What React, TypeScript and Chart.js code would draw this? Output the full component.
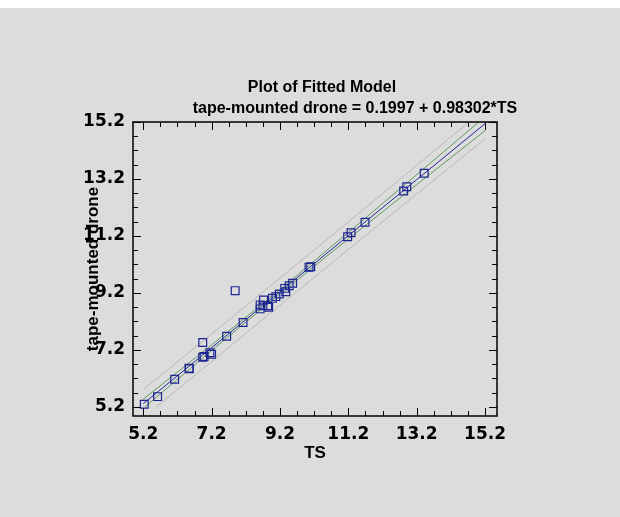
import React, { useEffect, useRef } from 'react';
import { Chart, registerables } from 'chart.js';

Chart.register(...registerables);

const titleLines = ['Plot of Fitted Model', 'tape-mounted drone = 0.1997 + 0.98302*TS'];
const xTitle = 'TS';
const yTitle = 'tape-mounted drone';

const xMajorTicks = [5.2, 7.2, 9.2, 11.2, 13.2, 15.2];
const yMajorTicks = [5.2, 7.2, 9.2, 11.2, 13.2, 15.2];
const xMinorTicks = [5.2, 5.7, 6.2, 6.7, 7.2, 7.7, 8.2, 8.7, 9.2, 9.7, 10.2, 10.7, 11.2, 11.7, 12.2, 12.7, 13.2, 13.7, 14.2, 14.7, 15.2];
const yMinorTicks = [5.2, 5.7, 6.2, 6.7, 7.2, 7.7, 8.2, 8.7, 9.2, 9.7, 10.2, 10.7, 11.2, 11.7, 12.2, 12.7, 13.2, 13.7, 14.2, 14.7, 15.2];
const xRange = [4.9, 15.55];
const yRange = [4.88, 15.2];

// observed points
const obsTS = [5.23, 5.62, 6.12, 6.54, 6.55, 6.94, 6.94, 6.98, 7.15, 7.2, 7.64, 8.12, 7.89, 8.62, 8.62, 8.7, 8.72, 8.84, 8.87, 8.98, 9.08, 9.18, 9.34, 9.37, 9.47, 9.57, 10.05, 10.1, 11.18, 11.28, 11.69, 12.82, 12.91, 13.42];
const obsDrone = [5.29, 5.56, 6.17, 6.56, 6.54, 7.46, 6.94, 6.97, 7.1, 7.05, 7.68, 8.16, 9.28, 8.64, 8.78, 8.75, 8.95, 8.75, 8.7, 9.01, 9.07, 9.16, 9.36, 9.24, 9.45, 9.54, 10.1, 10.12, 11.17, 11.31, 11.68, 12.78, 12.93, 13.4];

// fitted line and limits
const lineTS = [5.2, 7.2, 9.2, 11.2, 13.2, 15.2];
const fitted = [5.311, 7.277, 9.243, 11.209, 13.175, 15.141];
const confUpper = [5.468, 7.374, 9.318, 11.322, 13.351, 15.386];
const confLowerTS = [5.25, 7.2, 9.2, 11.2, 13.2, 15.2];
const confLower = [5.2, 7.18, 9.168, 11.096, 12.999, 14.896];
const predUpper = [5.806, 7.757, 9.719, 11.693, 13.677, 15.671];
const predLowerTS = [5.58, 7.2, 9.2, 11.2, 13.2, 15.2];
const predLower = [5.2, 6.797, 8.767, 10.725, 12.673, 14.611];

const zip = (xs: number[], ys: number[]) => xs.map((x, i) => ({ x, y: ys[i] }));
const isIn = (arr: number[], v: number) => arr.some((m) => Math.abs(m - v) < 1e-6);

const framePlugin = {
  id: 'frame',
  afterDraw(chart: any) {
    const { ctx, chartArea: a, scales } = chart;
    ctx.save();
    ctx.strokeStyle = '#000';
    ctx.lineWidth = 1;
    const seg = (x1: number, y1: number, x2: number, y2: number) => {
      ctx.beginPath();
      ctx.moveTo(x1, y1);
      ctx.lineTo(x2, y2);
      ctx.stroke();
    };
    const xs = scales.x;
    xs.ticks.forEach((t: any) => {
      const p = Math.round(xs.getPixelForValue(t.value)) + 0.5;
      const len = isIn(xMajorTicks, t.value) ? 8 : 5;
      seg(p, a.bottom, p, a.bottom - len);
      seg(p, a.top, p, a.top + len);
    });
    const ys = scales.y;
    ys.ticks.forEach((t: any) => {
      const p = Math.round(ys.getPixelForValue(t.value)) + 0.5;
      const len = isIn(yMajorTicks, t.value) ? 8 : 5;
      seg(a.left, p, a.left + len, p);
      seg(a.right, p, a.right - len, p);
    });
    ctx.lineWidth = 1.5;
    ctx.strokeRect(a.left, a.top, a.right - a.left, a.bottom - a.top);

    ctx.fillStyle = '#000';
    ctx.font = 'bold 16px "Liberation Sans", Arial, sans-serif';
    ctx.textAlign = 'center';
    ctx.textBaseline = 'middle';
    ctx.fillText(titleLines[0], 322, 80);
    ctx.fillText(titleLines[1], 355, 101);
    ctx.restore();
  },
};

const tickFont = { family: '"DejaVu Sans", sans-serif', size: 17, weight: 'bold' as const };
const titleFont = { family: '"Liberation Sans", Arial, sans-serif', size: 17, weight: 'bold' as const };

export default function App() {
  const ref = useRef<HTMLCanvasElement>(null);
  useEffect(() => {
    if (!ref.current) return;
    const chart = new Chart(ref.current, {
      type: 'scatter',
      data: {
        datasets: [
          {
            label: 'observed',
            data: zip(obsTS, obsDrone),
            pointStyle: 'rect',
            pointRadius: 5.5,
            borderWidth: 1.2,
            borderColor: '#1c2590',
            backgroundColor: 'rgba(0,0,0,0)',
          },
          {
            label: 'fitted',
            data: zip(lineTS, fitted),
            showLine: true,
            pointRadius: 0,
            borderWidth: 1,
            borderColor: '#23239a',
          },
          {
            label: 'conf upper',
            data: zip(lineTS, confUpper),
            showLine: true,
            pointRadius: 0,
            borderWidth: 1,
            borderColor: '#5e9a5e',
          },
          {
            label: 'conf lower',
            data: zip(confLowerTS, confLower),
            showLine: true,
            pointRadius: 0,
            borderWidth: 1,
            borderColor: '#5e9a5e',
          },
          {
            label: 'pred upper',
            data: zip(lineTS, predUpper),
            showLine: true,
            pointRadius: 0,
            borderWidth: 1,
            borderColor: '#b8b8b8',
          },
          {
            label: 'pred lower',
            data: zip(predLowerTS, predLower),
            showLine: true,
            pointRadius: 0,
            borderWidth: 1,
            borderColor: '#b8b8b8',
          },
        ],
      },
      options: {
        animation: false,
        responsive: false,
        events: [],
        layout: { padding: { left: 83, right: 123, top: 114, bottom: 53 } },
        plugins: { legend: { display: false }, tooltip: { enabled: false }, title: { display: false } },
        scales: {
          x: {
            type: 'linear',
            min: xRange[0],
            max: xRange[1],
            afterBuildTicks: (s: any) => {
              s.ticks = xMinorTicks.map((v) => ({ value: v }));
            },
            afterFit: (s: any) => {
              s.height = 48;
            },
            ticks: {
              autoSkip: false,
              maxRotation: 0,
              padding: 8,
              color: '#000',
              font: tickFont,
              callback: (v: any) => (isIn(xMajorTicks, Number(v)) ? Number(v).toFixed(1) : ''),
            },
            grid: { display: false, drawTicks: false },
            border: { display: false },
            title: { display: true, text: xTitle, color: '#000', font: titleFont, padding: 0 },
          },
          y: {
            type: 'linear',
            min: yRange[0],
            max: yRange[1],
            afterBuildTicks: (s: any) => {
              s.ticks = yMinorTicks.map((v) => ({ value: v }));
            },
            afterFit: (s: any) => {
              s.width = 50;
            },
            ticks: {
              autoSkip: false,
              padding: 8,
              color: '#000',
              font: tickFont,
              callback: (v: any) => (isIn(yMajorTicks, Number(v)) ? Number(v).toFixed(1) : ''),
            },
            grid: { display: false, drawTicks: false },
            border: { display: false },
            title: { display: true, text: yTitle, color: '#000', font: titleFont, padding: 0 },
          },
        },
      },
      plugins: [framePlugin],
    } as any);
    return () => chart.destroy();
  }, []);
  return (
    <div style={{ position: 'absolute', left: 0, top: 8, width: 620, height: 509, background: '#dcdcdc' }}>
      <canvas ref={ref} width={620} height={509} style={{ display: 'block' }} />
    </div>
  );
}
